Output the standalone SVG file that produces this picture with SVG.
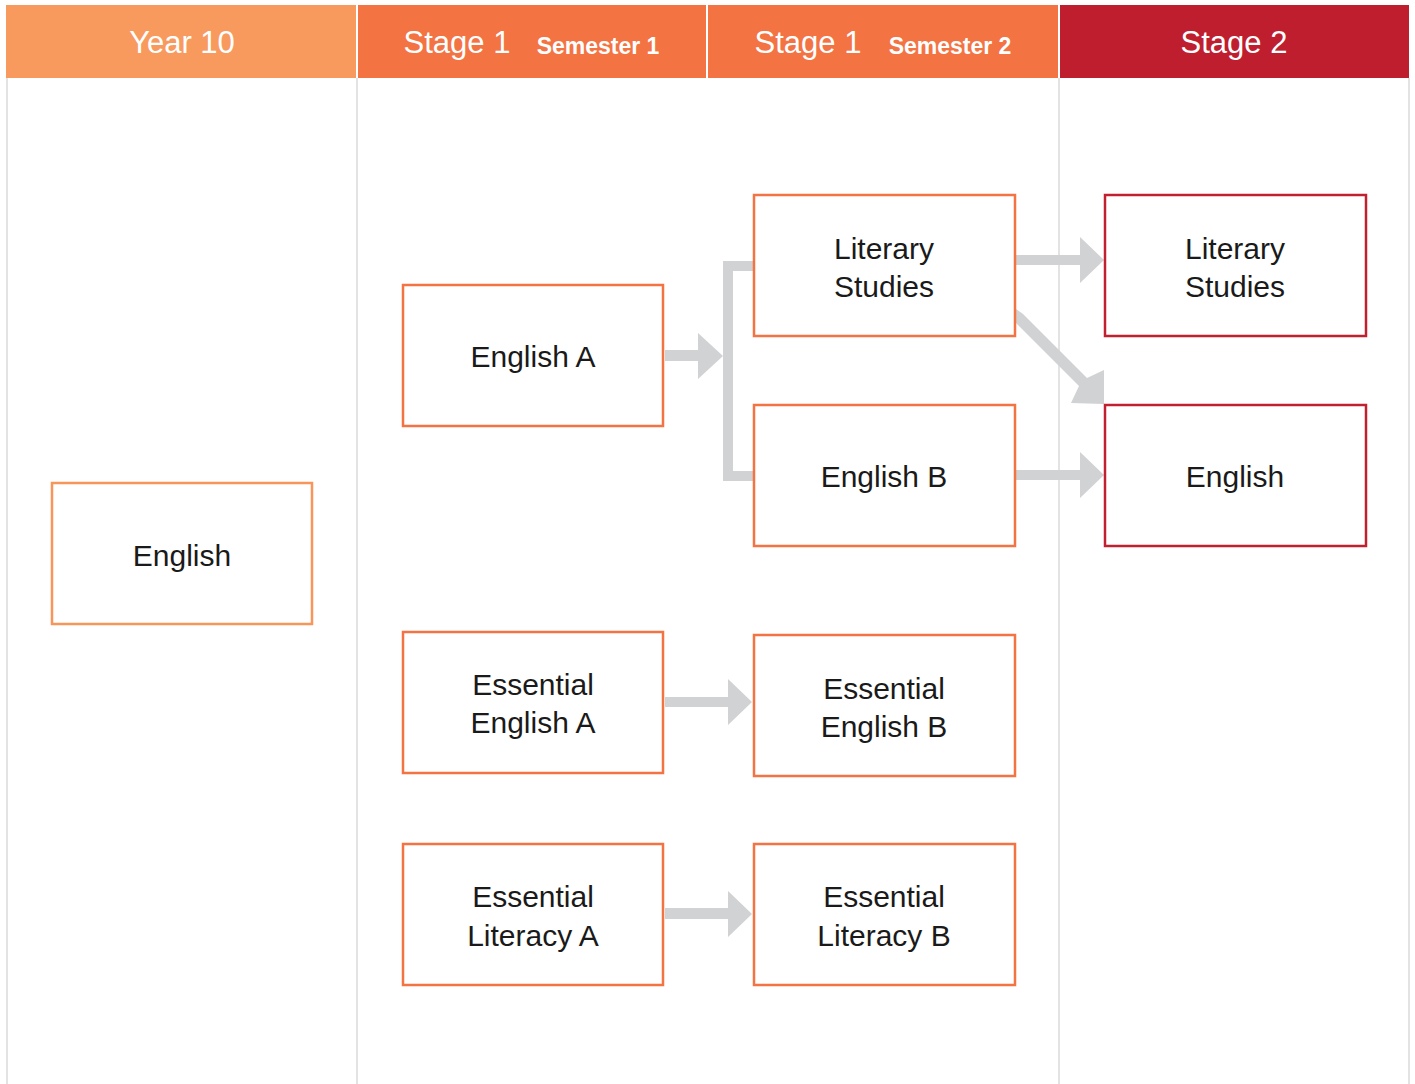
<svg xmlns="http://www.w3.org/2000/svg" width="1415" height="1084" viewBox="0 0 1415 1084">
<style>
.hdr{font-family:"Liberation Sans",Arial,sans-serif;fill:#fff;text-anchor:middle}
.big{font-size:31px;font-weight:normal}
.sem{font-size:23px;font-weight:bold}
.box{fill:#fff;stroke-width:2.5}
.y10{stroke:#F7955A}
.s1{stroke:#F37343}
.s2{stroke:#C1202F}
.lbl{font-family:"Liberation Sans",Arial,sans-serif;font-size:30px;fill:#1a1a1a;text-anchor:middle}
.grid{stroke:#E3E3E3;stroke-width:2}
.arr{fill:#D1D2D4}
</style>
<rect width="1415" height="1084" fill="#fff"/>
<g id="grid">
<line class="grid" x1="7" y1="78" x2="7" y2="1084"/>
<line class="grid" x1="357" y1="78" x2="357" y2="1084"/>
<line class="grid" x1="1059" y1="78" x2="1059" y2="1084"/>
<line class="grid" x1="1409" y1="78" x2="1409" y2="1084"/>
</g>
<g id="header">
<rect x="6" y="5" width="350" height="73" fill="#F89A5E"/>
<rect x="358" y="5" width="348" height="73" fill="#F37343"/>
<rect x="708" y="5" width="350" height="73" fill="#F37343"/>
<rect x="1060" y="5" width="349" height="73" fill="#BF1E2E"/>
<text class="hdr big" x="182" y="53">Year 10</text>
<text class="hdr big" x="457" y="53">Stage 1</text>
<text class="hdr sem" x="598" y="54">Semester 1</text>
<text class="hdr big" x="808" y="53">Stage 1</text>
<text class="hdr sem" x="950" y="54">Semester 2</text>
<text class="hdr big" x="1234" y="53">Stage 2</text>
</g>
<g id="connectors">
<polygon class="arr" points="665,350 698,350 698,333 723,356 698,379 698,361 665,361"/>
<path class="arr" d="M723,261 H754 V271 H733 V471 H754 V481 H723 Z"/>
<polygon class="arr" points="1016,255 1080,255 1080,237 1104,260 1080,283 1080,265 1016,265"/>
<polygon class="arr" points="1016,470 1080,470 1080,452 1104,475 1080,498 1080,480 1016,480"/>
<polygon class="arr" points="1016,309 1016,323 1079,386 1071,403 1104,404 1104,370 1087,378 1023,314"/>
<polygon class="arr" points="665,697 728,697 728,679 752,702 728,725 728,707 665,707"/>
<polygon class="arr" points="665,908 728,908 728,891 752,914 728,937 728,919 665,919"/>
</g>
<g id="n-year10-english">
<rect class="box y10" x="52" y="483" width="260" height="141"/>
<text class="lbl" x="182" y="566">English</text>
</g>
<g id="n-english-a">
<rect class="box s1" x="403" y="285" width="260" height="141"/>
<text class="lbl" x="533" y="367">English A</text>
</g>
<g id="n-literary-studies-1">
<rect class="box s1" x="754" y="195" width="261" height="141"/>
<text class="lbl" x="884" y="259">Literary</text>
<text class="lbl" x="884" y="297">Studies</text>
</g>
<g id="n-english-b">
<rect class="box s1" x="754" y="405" width="261" height="141"/>
<text class="lbl" x="884" y="487">English B</text>
</g>
<g id="n-literary-studies-2">
<rect class="box s2" x="1105" y="195" width="261" height="141"/>
<text class="lbl" x="1235" y="259">Literary</text>
<text class="lbl" x="1235" y="297">Studies</text>
</g>
<g id="n-english-2">
<rect class="box s2" x="1105" y="405" width="261" height="141"/>
<text class="lbl" x="1235" y="487">English</text>
</g>
<g id="n-ess-english-a">
<rect class="box s1" x="403" y="632" width="260" height="141"/>
<text class="lbl" x="533" y="695">Essential</text>
<text class="lbl" x="533" y="733">English A</text>
</g>
<g id="n-ess-english-b">
<rect class="box s1" x="754" y="635" width="261" height="141"/>
<text class="lbl" x="884" y="699">Essential</text>
<text class="lbl" x="884" y="737">English B</text>
</g>
<g id="n-ess-literacy-a">
<rect class="box s1" x="403" y="844" width="260" height="141"/>
<text class="lbl" x="533" y="907">Essential</text>
<text class="lbl" x="533" y="946">Literacy A</text>
</g>
<g id="n-ess-literacy-b">
<rect class="box s1" x="754" y="844" width="261" height="141"/>
<text class="lbl" x="884" y="907">Essential</text>
<text class="lbl" x="884" y="946">Literacy B</text>
</g>
</svg>
